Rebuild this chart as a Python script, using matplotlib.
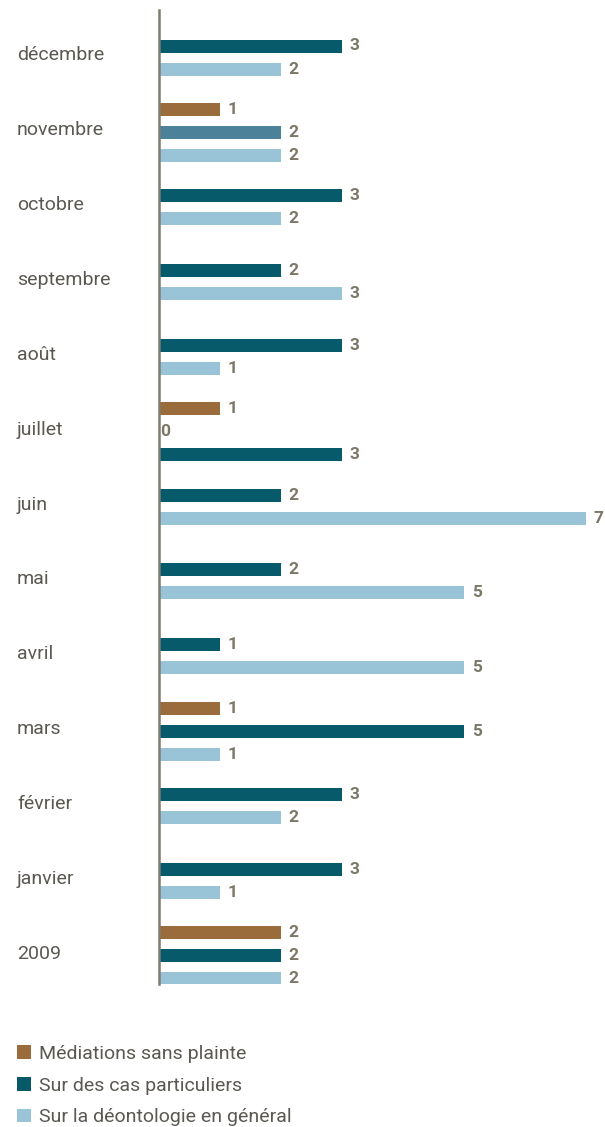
import matplotlib
matplotlib.use("Agg")
import matplotlib.pyplot as plt
from matplotlib.patches import Patch
from matplotlib.transforms import blended_transform_factory

# ---- data (top -> bottom as in the chart) ----
months = ["décembre", "novembre", "octobre", "septembre", "août", "juillet",
          "juin", "mai", "avril", "mars", "février", "janvier", "2009"]
mediation = [None, 1, None, None, None, 1, None, None, None, 1, None, None, 2]
cas = [3, 2, 3, 2, 3, 0, 2, 2, 1, 5, 3, 3, 2]
deonto = [2, 2, 2, 3, 1, 3, 7, 5, 5, 1, 2, 1, 2]
names = ["Médiations sans plainte", "Sur des cas particuliers",
         "Sur la déontologie en général"]
series = [mediation, cas, deonto]

# ---- style ----
COL = ["#9a6c3c", "#075a69", "#99c4d7"]
OVERRIDE = {(1, 1): "#4b8299", (2, 5): "#075a69"}   # odd colours in the original
AXC = "#7f7b6f"; VALC = "#7c7767"; TXTC = "#5b5852"
FONT = "Roboto"

W, H = 605, 1127
X0 = 158.5                 # px of the baseline
PX_UNIT = 61.0             # px per count
TOP, BOT = 10, 984         # vertical extent of the axis line (px)
C0, PX_Y = 57.5, 74.84     # first group centre, px per category
SLOT, BH = 23 / PX_Y, 13 / PX_Y

fig = plt.figure(figsize=(W / 100, H / 100), dpi=100)
ax = fig.add_axes([X0 / W, 1 - BOT / H, 1 - X0 / W, (BOT - TOP) / H])

for i in range(len(months)):
    vals = [(k, s[i]) for k, s in enumerate(series) if s[i] is not None]
    n = len(vals)
    for j, (k, v) in enumerate(vals):
        y = i + (j - (n - 1) / 2) * SLOT
        ax.barh(y, v, height=BH, color=OVERRIDE.get((k, i), COL[k]), linewidth=0, zorder=2)
        ax.annotate(str(v), (v, y), xytext=(1.5 if v == 0 else 6, 0), textcoords="offset points",
                    ha="left", va="center", fontsize=12.5, fontweight="bold", color=VALC,
                    family=FONT, annotation_clip=False)

ax.set_xlim(0, (W - X0) / PX_UNIT)
ax.set_ylim((BOT - C0) / PX_Y, -(C0 - TOP) / PX_Y)
ax.set_xticks([]); ax.set_yticks([])
for sp in ("top", "right", "bottom"):
    ax.spines[sp].set_visible(False)
ax.spines["left"].set_color(AXC)
ax.spines["left"].set_linewidth(1.8)
ax.spines["left"].set_zorder(5)

tr = blended_transform_factory(fig.transFigure, ax.transData)
for i, m in enumerate(months):
    ax.text(17 / W, i + 3 / PX_Y, m, transform=tr, ha="left", va="baseline",
            fontsize=14, family=FONT, color=TXTC)

handles = [Patch(fc=c, ec="none", label=nm) for c, nm in zip(COL, names)]
fig.legend(handles=handles, loc="upper left", bbox_to_anchor=(17 / W, 1 - 1045 / H),
           frameon=False, prop={"family": FONT, "size": 14}, labelcolor=TXTC,
           handlelength=0.7, handleheight=0.7, handletextpad=0.45, labelspacing=0.7,
           borderpad=0, borderaxespad=0)

fig.savefig("out.png", dpi=100)
